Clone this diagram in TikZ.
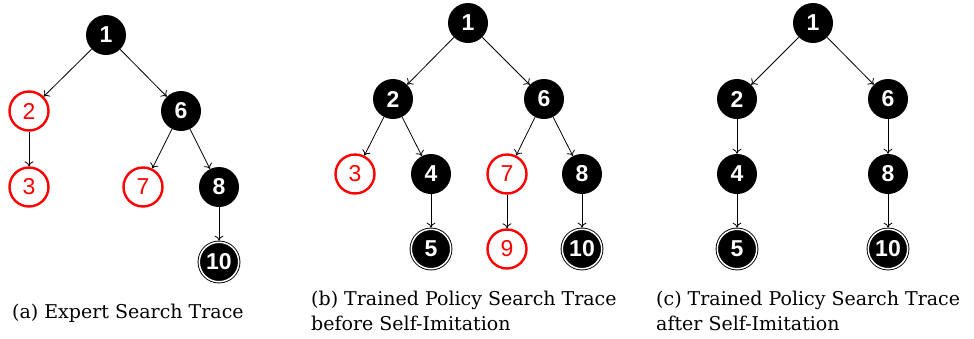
\documentclass[tikz,border=0pt]{standalone}
\usepackage{fontspec}
\setmainfont{DejaVu Serif}
\newfontfamily\numfont{Liberation Sans}
\newfontfamily\capfont{DejaVu Serif}
\usetikzlibrary{arrows.meta}

\tikzset{
  treenode/.style={circle, inner sep=0pt, font=\numfont\fontsize{23}{23}\selectfont},
  expanded/.style={treenode, fill=black, text=white, minimum size=40pt, font=\numfont\bfseries\fontsize{23}{23}\selectfont},
  goal/.style={treenode, fill=black, text=white, draw=black, double=white, double distance=1.5pt,
    line width=0.9pt, minimum size=39.5pt, outer sep=1.6pt, font=\numfont\bfseries\fontsize{23}{23}\selectfont},
  pruned/.style={treenode, draw=red, text=red, line width=2.4pt, fill=white, minimum size=39pt},
  edge/.style={draw=black, line width=0.8pt, -{To[length=5pt,width=9pt]}},
  caption/.style={anchor=base west, inner sep=0pt, font=\capfont\fontsize{19}{25}\selectfont}
}

\begin{document}
\begin{tikzpicture}[x=1pt, y=-1pt]
\useasboundingbox (0,0) rectangle (974,338);

% (a) expert search trace
\node[expanded] (a1)  at (106,35)  {1};
\node[pruned]   (a2)  at (29,111)  {2};
\node[expanded] (a6)  at (181,111) {6};
\node[pruned]   (a3)  at (29,187)  {3};
\node[pruned]   (a7)  at (143,187) {7};
\node[expanded] (a8)  at (219,187) {8};
\node[goal]     (a10) at (219,262) {10};
\draw[edge] (a1) -- (a2);
\draw[edge] (a1) -- (a6);
\draw[edge] (a2) -- (a3);
\draw[edge] (a6) -- (a7);
\draw[edge] (a6) -- (a8);
\draw[edge] (a8) -- (a10);
\node[caption] (capa) at (12,318) {(a) Expert Search Trace};

% (b) trained policy, before self-imitation
\node[expanded] (b1)  at (468,23)  {1};
\node[expanded] (b2)  at (393,99)  {2};
\node[expanded] (b6)  at (544,99)  {6};
\node[pruned]   (b3)  at (355,174) {3};
\node[expanded] (b4)  at (431,174) {4};
\node[pruned]   (b7)  at (507,174) {7};
\node[expanded] (b8)  at (582,174) {8};
\node[goal]     (b5)  at (431,249) {5};
\node[pruned]   (b9)  at (507,249) {9};
\node[goal]     (b10) at (582,249) {10};
\draw[edge] (b1) -- (b2);
\draw[edge] (b1) -- (b6);
\draw[edge] (b2) -- (b3);
\draw[edge] (b2) -- (b4);
\draw[edge] (b6) -- (b7);
\draw[edge] (b6) -- (b8);
\draw[edge] (b4) -- (b5);
\draw[edge] (b7) -- (b9);
\draw[edge] (b8) -- (b10);
\node[caption] (capb1) at (311,305) {(b) Trained Policy Search Trace};
\node[caption] (capb2) at (311,330) {before Self-Imitation};

% (c) trained policy, after self-imitation
\node[expanded] (c1)  at (813,23)  {1};
\node[expanded] (c2)  at (737,99)  {2};
\node[expanded] (c6)  at (888,99)  {6};
\node[expanded] (c4)  at (737,174) {4};
\node[expanded] (c8)  at (888,174) {8};
\node[goal]     (c5)  at (737,249) {5};
\node[goal]     (c10) at (888,249) {10};
\draw[edge] (c1) -- (c2);
\draw[edge] (c1) -- (c6);
\draw[edge] (c2) -- (c4);
\draw[edge] (c6) -- (c8);
\draw[edge] (c4) -- (c5);
\draw[edge] (c8) -- (c10);
\node[caption] (capc1) at (656,305) {(c) Trained Policy Search Trace};
\node[caption] (capc2) at (656,330) {after Self-Imitation};
\end{tikzpicture}
\end{document}
